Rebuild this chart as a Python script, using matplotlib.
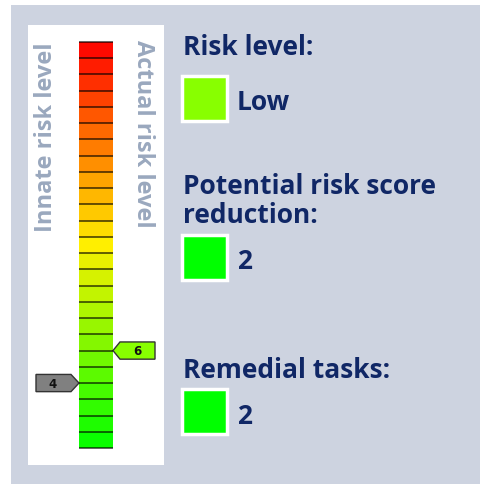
import matplotlib
matplotlib.use("Agg")
import matplotlib.pyplot as plt
from matplotlib.patches import Rectangle, Polygon
from matplotlib.colors import LinearSegmentedColormap

# data
n_levels = 25
innate_level = 4
actual_level = 6
risk_label = "Low"
reduction = 2
remedial_tasks = 2
risk_color = "#88FF00"
reduction_color = "#00FF00"
tasks_color = "#00FF00"

W, H = 481, 485
bg = "#CDD3E0"
navy = "#102766"
grey_txt = "#9AA8BE"
font = "Open Sans"

fig = plt.figure(figsize=(W / 100, H / 100), dpi=100)

# background in pixel coords
ax_bg = fig.add_axes([0, 0, 1, 1])
ax_bg.set_xlim(0, W)
ax_bg.set_ylim(H, 0)
ax_bg.axis("off")
ax_bg.add_patch(Rectangle((11, 6), 469, 479, facecolor=bg, edgecolor="none"))
ax_bg.add_patch(Rectangle((28, 26), 136, 440, facecolor="white", edgecolor="none"))

# vertical labels
ax_bg.text(46, 43, "Innate risk level", rotation=90, ha="center", va="top",
           color=grey_txt, fontsize=17, fontweight="bold", family=font)
ax_bg.text(143, 40, "Actual risk level", rotation=-90, ha="center", va="top",
           color=grey_txt, fontsize=17, fontweight="bold", family=font)

# gauge
x0, x1, yb, yt = 28, 164, 449, 43
ax = fig.add_axes([x0 / W, (H - yb) / H, (x1 - x0) / W, (yb - yt) / H])
ax.set_xlim(0, x1 - x0)
ax.set_ylim(0, n_levels)
ax.axis("off")

cmap = LinearSegmentedColormap.from_list("risk", ["#00FF00", "#FFF000", "#FF0000"])
levels = list(range(n_levels))
colors = [cmap((i + 0.5) / n_levels) for i in levels]
ax.bar([68] * n_levels, [1] * n_levels, bottom=levels, width=34, color=colors,
       edgecolor="none")
ax.hlines(levels + [n_levels], 51, 85, color=(0, 0, 0, 0.7), lw=1.2, clip_on=False)

# markers
hh = 0.53
v = innate_level
ax.add_patch(Polygon([(8, v - hh), (43, v - hh), (51, v), (43, v + hh), (8, v + hh)],
                     closed=True, facecolor="#808080", edgecolor="#333333", lw=1, clip_on=False))
ax.text(25, v, str(innate_level), ha="center", va="center", fontsize=8.5,
        fontweight="bold", color="#111111", family="DejaVu Sans")
v = actual_level
ax.add_patch(Polygon([(85, v), (92, v + hh), (127, v + hh), (127, v - hh), (92, v - hh)],
                     closed=True, facecolor=risk_color, edgecolor="#333333", lw=1, clip_on=False))
ax.text(109, v, str(actual_level), ha="center", va="center", fontsize=8.5,
        fontweight="bold", color="#111111", family="DejaVu Sans")

# right-hand summary
fs = 19
def swatch(y, color):
    ax_bg.add_patch(Rectangle((182, y), 45, 45, facecolor=color, edgecolor="white", lw=2.5))

ax_bg.text(183, 55, "Risk level:", color=navy, fontsize=fs, fontweight="bold", family=font)
swatch(77, risk_color)
ax_bg.text(237, 110, risk_label, color=navy, fontsize=fs, fontweight="bold", family=font)

ax_bg.text(183, 194, "Potential risk score", color=navy, fontsize=fs, fontweight="bold", family=font)
ax_bg.text(183, 223, "reduction:", color=navy, fontsize=fs, fontweight="bold", family=font)
swatch(236, reduction_color)
ax_bg.text(237, 269, str(reduction), color=navy, fontsize=fs, fontweight="bold", family=font)

ax_bg.text(183, 378, "Remedial tasks:", color=navy, fontsize=fs, fontweight="bold", family=font)
swatch(390, tasks_color)
ax_bg.text(237, 424, str(remedial_tasks), color=navy, fontsize=fs, fontweight="bold", family=font)

fig.savefig("out.png", dpi=100)
